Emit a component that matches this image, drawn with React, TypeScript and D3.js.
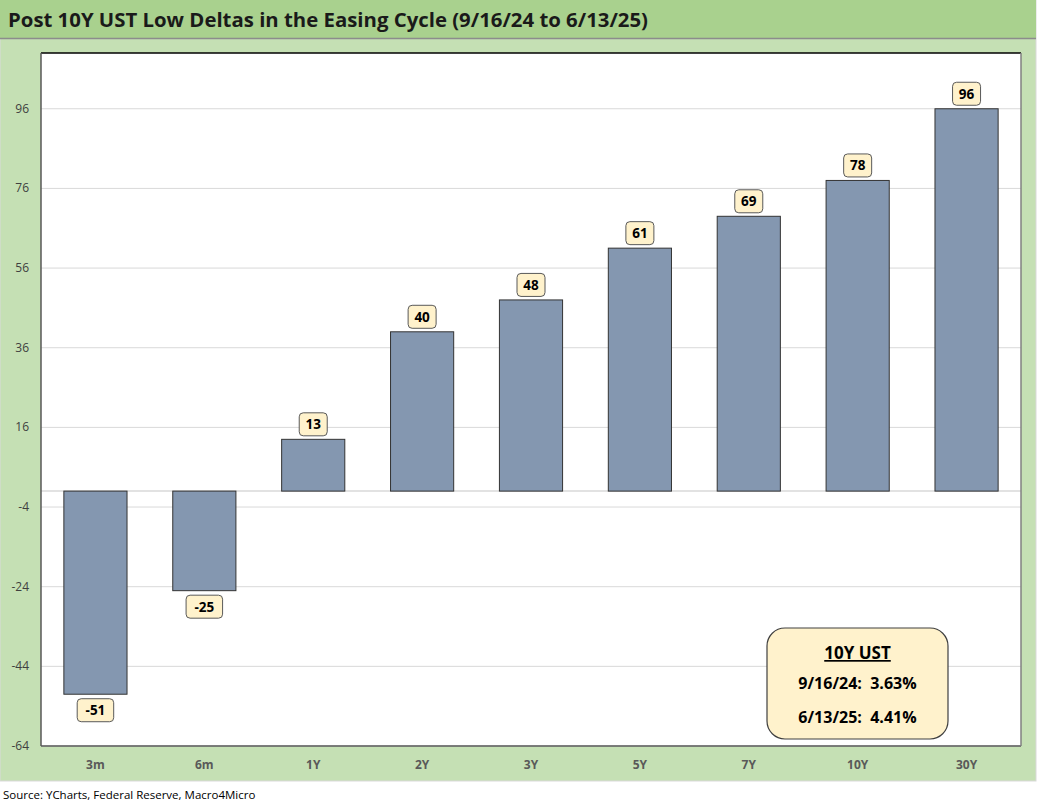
import React from 'react'
import * as d3 from 'd3'

const categories = ['3m', '6m', '1Y', '2Y', '3Y', '5Y', '7Y', '10Y', '30Y']
const deltas = [-51, -25, 13, 40, 48, 61, 69, 78, 96]
const yTicks = [-64, -44, -24, -4, 16, 36, 56, 76, 96]
const title = 'Post 10Y UST Low Deltas in the Easing Cycle (9/16/24 to 6/13/25)'
const boxLines = ['9/16/24:  3.63%', '6/13/25:  4.41%']
const source = 'Source: YCharts, Federal Reserve, Macro4Micro'

const W = 1038
const H = 808
const plot = { left: 41, right: 1021, top: 53, bottom: 746 }
const font = "'Open Sans', 'Noto Sans', sans-serif"

export default function App() {
  const x = d3.scaleBand<string>()
    .domain(categories)
    .range([plot.left, plot.right])
    .paddingInner(0.42)
    .paddingOuter(0.21)

  const y = d3.scaleLinear()
    .domain([-64, 110])
    .range([plot.bottom, plot.top])

  const y0 = y(0)

  return (
    <svg width={W} height={H} style={{ position: 'absolute', left: 0, top: 0 }} fontFamily={font}>
      <rect x={0} y={0} width={W} height={H} fill="#ffffff" />
      <rect x={0} y={0} width={1036} height={781} fill="#c5e0b4" stroke="#d9d9d9" />
      <rect x={0} y={0} width={1036} height={38} fill="#a9d18e" />
      <line x1={0} x2={1036} y1={38.5} y2={38.5} stroke="#8c8c8c" strokeWidth={1.5} />
      <text x={8} y={27} fontSize={19.5} fontWeight="bold" fill="#1a1a1a" textLength={640} lengthAdjust="spacingAndGlyphs">{title}</text>

      <rect x={plot.left} y={plot.top} width={plot.right - plot.left} height={plot.bottom - plot.top} fill="#ffffff" />

      {yTicks.map(t => (
        <g key={t}>
          <line x1={plot.left} x2={plot.right} y1={y(t)} y2={y(t)} stroke="#d9d9d9" strokeWidth={1} />
          <text x={29} y={y(t) + 4} fontSize={12} textAnchor="end" fill="#404040">{t}</text>
        </g>
      ))}

      <line x1={plot.left} x2={plot.right} y1={y0} y2={y0} stroke="#d9d9d9" strokeWidth={1.5} />

      {categories.map((c, i) => {
        const v = deltas[i]
        const bx = x(c) as number
        const top = Math.min(y(v), y0)
        const h = Math.abs(y(v) - y0)
        const cx = bx + x.bandwidth() / 2
        const ly = v >= 0 ? y(v) - 15 : y(v) + 16
        const lw = String(v).length * 8.5 + 11
        return (
          <g key={c}>
            <rect x={bx} y={top} width={x.bandwidth()} height={h} fill="#8497b0" stroke="#333333" strokeWidth={1} />
            <rect x={cx - lw / 2} y={ly - 11.5} width={lw} height={23} rx={4} fill="#fff2cc" stroke="#595959" strokeWidth={1} />
            <text x={cx} y={ly + 5} fontSize={13.5} fontWeight="bold" textAnchor="middle" fill="#000000">{v}</text>
            <text x={cx} y={769} fontSize={12} fontWeight="bold" textAnchor="middle" fill="#595959">{c}</text>
          </g>
        )
      })}

      <line x1={plot.left} x2={plot.right} y1={plot.top} y2={plot.top} stroke="#000000" strokeWidth={1.5} />
      <line x1={plot.left} x2={plot.left} y1={plot.top} y2={plot.bottom} stroke="#595959" strokeWidth={1.5} />
      <line x1={plot.left} x2={plot.right} y1={plot.bottom} y2={plot.bottom} stroke="#595959" strokeWidth={1.5} />
      <line x1={plot.right} x2={plot.right} y1={plot.top} y2={plot.bottom} stroke="#808080" strokeWidth={1.5} />

      <rect x={767} y={628} width={181} height={111} rx={18} fill="#fff2cc" stroke="#404040" strokeWidth={1.2} />
      <text x={857.5} y={659} fontSize={17} fontWeight="bold" textAnchor="middle" fill="#000000" textDecoration="underline">10Y UST</text>
      {boxLines.map((l, i) => (
        <text key={l} x={857.5} y={689 + i * 34} fontSize={16} fontWeight="bold" textAnchor="middle" fill="#000000" style={{ whiteSpace: 'pre' }}>{l}</text>
      ))}

      <text x={3} y={799} fontSize={11.5} fill="#000000">{source}</text>
    </svg>
  )
}
